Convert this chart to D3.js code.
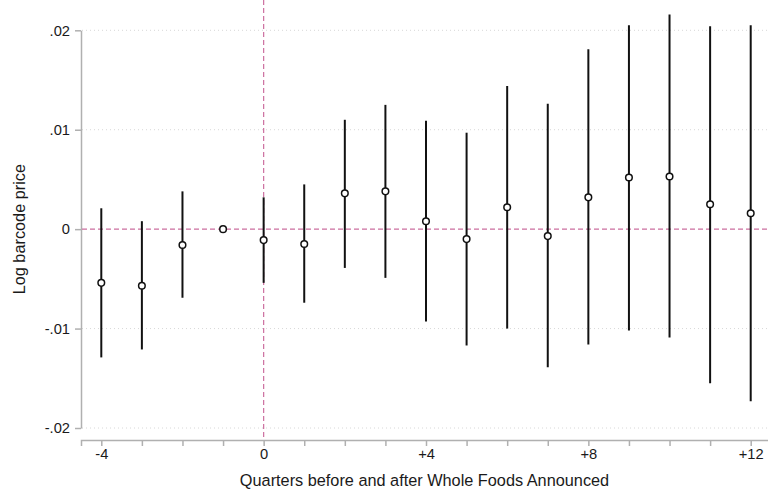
<!DOCTYPE html>
<html>
<head>
<meta charset="utf-8">
<script src="https://cdn.jsdelivr.net/npm/d3@7"></script>
<style>
  body { margin: 0; background: #fff; }
  svg { display: block; font-family: "Liberation Sans", Arial, sans-serif; }
</style>
</head>
<body>
<div id="chart"></div>
<script>
// event-study estimates, quarter -1 is the omitted reference
const quarters = [-4, -3, -2, -1, 0, 1, 2, 3, 4, 5, 6, 7, 8, 9, 10, 11, 12];
const estimates = [-0.0054, -0.0057, -0.0016, 0, -0.0011, -0.0015, 0.0036, 0.0038, 0.0008, -0.0010, 0.0022, -0.0007, 0.0032, 0.0052, 0.0053, 0.0025, 0.0016];
const upper = [0.0021, 0.0008, 0.0038, null, 0.0032, 0.0045, 0.0110, 0.0125, 0.0109, 0.0097, 0.0144, 0.0126, 0.0181, 0.0205, 0.0216, 0.0204, 0.0205];
const lower = [-0.0129, -0.0121, -0.0069, null, -0.0054, -0.0074, -0.0039, -0.0049, -0.0093, -0.0117, -0.0100, -0.0139, -0.0116, -0.0102, -0.0109, -0.0155, -0.0173];
const yTicks = [-0.02, -0.01, 0, 0.01, 0.02];
const yTickLabels = ["-.02", "-.01", "0", ".01", ".02"];
const xLabelTicks = [-4, 0, 4, 8, 12];

const W = 768, H = 495;
const plotLeft = 81, plotRight = 771, plotTop = 30.3, plotBottom = 428, axisY = 440;

const svg = d3.select("#chart").append("svg")
  .attr("width", W).attr("height", H);

const x = d3.scaleLinear().domain([-4.5, 12.5]).range([plotLeft, plotRight]);
const y = d3.scaleLinear().domain([-0.02, 0.02]).range([plotBottom, plotTop]);

const axisColor = "#b0b0b0";
const textColor = "#1a1a1a";
const refColor = "#cc6f9f";

// grid
svg.append("g").selectAll("line")
  .data(yTicks.filter(d => d !== 0))
  .enter().append("line")
  .attr("x1", plotLeft + 1).attr("x2", W)
  .attr("y1", d => y(d)).attr("y2", d => y(d))
  .attr("stroke", "#d8d8d8").attr("stroke-width", 1)
  .attr("stroke-dasharray", "1,3");

// y axis
const yAxis = svg.append("g")
  .attr("transform", "translate(" + plotLeft + ",0)")
  .call(d3.axisLeft(y).tickValues(yTicks)
    .tickFormat((d, i) => yTickLabels[i]).tickSize(6).tickSizeOuter(0).tickPadding(5));
yAxis.select(".domain").attr("stroke", axisColor).attr("stroke-width", 1.5);
yAxis.selectAll(".tick line").attr("stroke", axisColor).attr("stroke-width", 1.5);
yAxis.selectAll(".tick text").attr("font-size", 14.7).attr("fill", textColor)
  .attr("font-family", "Liberation Sans, Arial, sans-serif");

// x axis
const xAxis = svg.append("g")
  .attr("transform", "translate(0," + axisY + ")")
  .call(d3.axisBottom(x).tickValues(quarters)
    .tickFormat(d => xLabelTicks.includes(d) ? (d > 0 ? "+" + d : String(d)) : "")
    .tickSize(6).tickSizeOuter(6).tickPadding(3));
xAxis.select(".domain").attr("stroke", axisColor).attr("stroke-width", 1.5);
xAxis.selectAll(".tick line").attr("stroke", axisColor).attr("stroke-width", 1.5);
xAxis.selectAll(".tick text").attr("font-size", 14.7).attr("fill", textColor)
  .attr("font-family", "Liberation Sans, Arial, sans-serif");

// reference lines
svg.append("line")
  .attr("x1", plotLeft + 1).attr("x2", W)
  .attr("y1", y(0)).attr("y2", y(0))
  .attr("stroke", refColor).attr("stroke-width", 1.2)
  .attr("stroke-dasharray", "5,3");
svg.append("line")
  .attr("x1", x(0)).attr("x2", x(0))
  .attr("y1", 0).attr("y2", axisY)
  .attr("stroke", refColor).attr("stroke-width", 1.2)
  .attr("stroke-dasharray", "5,3");

// confidence intervals
const rows = quarters.map((q, i) => ({ q: q, est: estimates[i], hi: upper[i], lo: lower[i] }));
svg.append("g").selectAll("line")
  .data(rows.filter(d => d.hi !== null))
  .enter().append("line")
  .attr("x1", d => x(d.q)).attr("x2", d => x(d.q))
  .attr("y1", d => y(d.hi)).attr("y2", d => y(d.lo))
  .attr("stroke", "#111").attr("stroke-width", 2);

// point estimates
svg.append("g").selectAll("circle")
  .data(rows)
  .enter().append("circle")
  .attr("cx", d => x(d.q)).attr("cy", d => y(d.est))
  .attr("r", 3.3)
  .attr("fill", "#fff").attr("stroke", "#111").attr("stroke-width", 1.5);

// titles
svg.append("text")
  .attr("x", (plotLeft + W) / 2).attr("y", 486)
  .attr("text-anchor", "middle").attr("font-size", 16.3).attr("fill", textColor)
  .text("Quarters before and after Whole Foods Announced");
svg.append("text")
  .attr("transform", "translate(24.5," + y(0) + ") rotate(-90)")
  .attr("text-anchor", "middle").attr("font-size", 16.3).attr("fill", textColor)
  .text("Log barcode price");
</script>
</body>
</html>
